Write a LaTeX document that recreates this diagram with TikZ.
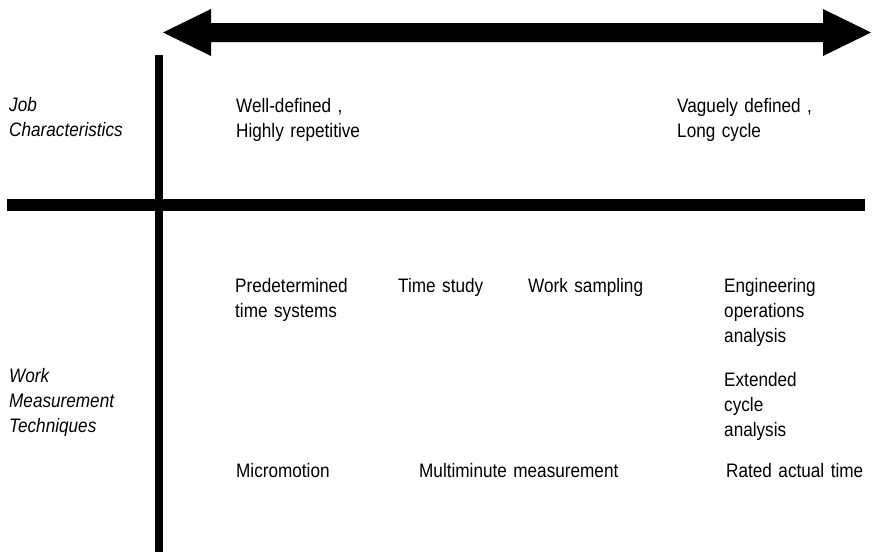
\documentclass[tikz,border=0pt]{standalone}
\usepackage{fontspec}
\setmainfont[FakeStretch=0.88]{Liberation Sans}
\begin{document}
\begin{tikzpicture}[x=1pt, y=-1pt,
	txt/.style={anchor=base west, inner sep=0pt, align=left, text width=250pt,
		font=\fontsize{19.5}{25}\selectfont},
	side/.style={txt, font=\fontsize{19.5}{25}\selectfont\itshape}]
	\useasboundingbox (0,0) rectangle (875,552);
	\coordinate[](ltip) at (163,32.5) ;
	\coordinate[](rtip) at (871,32.5) ;
	\coordinate[](vtop) at (158.5,55) ;
	\coordinate[](vbot) at (158.5,552) ;
	\coordinate[](hleft) at (7,205) ;
	\coordinate[](hright) at (865,205) ;
	
	% double arrow on top
	\fill (ltip) -- (211,9) -- (211,23) -- (823,23) -- (823,9) -- (rtip)
		-- (823,56) -- (823,42) -- (211,42) -- (211,56) -- cycle;
	
	\draw[line width=8pt] (vtop) -- (vbot);
	\draw[line width=12pt] (hleft) -- (hright);
	
	\node[side](job) at (9,111) {Job\\Characteristics};
	\node[txt](well) at (236,112) {Well-defined ,\\Highly repetitive};
	\node[txt](vague) at (677,112) {Vaguely defined ,\\Long cycle};
	
	\node[side](work) at (9,382) {Work\\Measurement\\Techniques};
	\node[txt](pts) at (235,292) {Predetermined\\time systems};
	\node[txt](study) at (398,292) {Time study};
	\node[txt](sampling) at (528,292) {Work sampling};
	\node[txt](engop) at (724,292) {Engineering\\operations\\analysis};
	\node[txt](extcyc) at (724,386) {Extended\\cycle\\analysis};
	\node[txt](micro) at (236,477) {Micromotion};
	\node[txt](multi) at (419,477) {Multiminute measurement};
	\node[txt](rated) at (726,477) {Rated actual time};
\end{tikzpicture}
\end{document}
